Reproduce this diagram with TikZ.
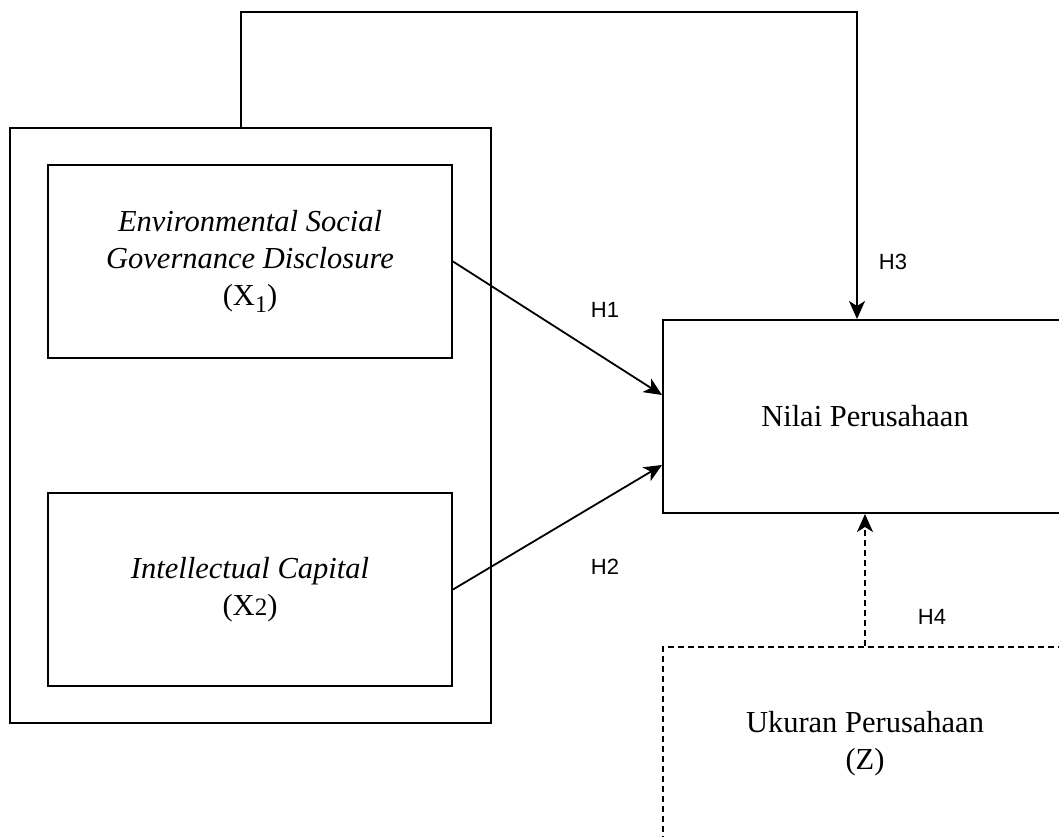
\documentclass[tikz,border=0pt]{standalone}
\usepackage{fontspec}
\setmainfont{Liberation Serif}
\newfontfamily\hfont{Liberation Sans}
\usetikzlibrary{arrows.meta,calc}
\tikzset{
  box/.style={draw, line width=2pt, minimum width=404pt, minimum height=193pt, inner sep=0pt, align=center, font=\fontsize{30.5}{37}\selectfont},
  conn/.style={line width=1.8pt},
  arr/.style={conn, -{Stealth[length=18pt,width=16pt,inset=5pt]}},
  dsh/.style={dash pattern=on 6pt off 4pt},
  hlab/.style={font=\hfont\fontsize{22}{22}\selectfont, inner sep=0pt}
}
\begin{document}
\begin{tikzpicture}[x=1pt,y=-1pt]
\useasboundingbox (0,0) rectangle (1059,837);
\clip (0,0) rectangle (1059,837);
\node[draw, line width=2pt, minimum width=481pt, minimum height=595pt, inner sep=0pt] (outer) at (250.5,425.5) {};
\node[box] (x1) at (250,261.5) {\itshape Environmental Social\\\itshape Governance Disclosure\\(X\raisebox{-0.22em}{\fontsize{24}{24}\selectfont 1})};
\node[box] (x2) at (250,589.5) {\itshape Intellectual Capital\\(X{\fontsize{25}{25}\selectfont 2})};
\node[box] (nilai) at (865,416.5) {Nilai Perusahaan};
\node[box, dsh] (z) at (865,743.5) {Ukuran Perusahaan\\(Z)};
\coordinate (c0) at (241,128);
\coordinate (c1) at (241,12);
\coordinate (c2) at (857,12);
\draw[arr] (c0) -- (c1) -- (c2) -- (nilai.north -| c2);
\draw[arr] (x1.east) -- ($(nilai.west)+(0,-21.5)$);
\draw[arr] (x2.east) -- ($(nilai.west)+(0,48.5)$);
\draw[arr, dsh] (z.north) -- (nilai.south);
\node[hlab] (h1) at (605,310) {H1};
\node[hlab] (h2) at (605,567) {H2};
\node[hlab] (h3) at (893,262) {H3};
\node[hlab] (h4) at (932,617) {H4};
\end{tikzpicture}
\end{document}
